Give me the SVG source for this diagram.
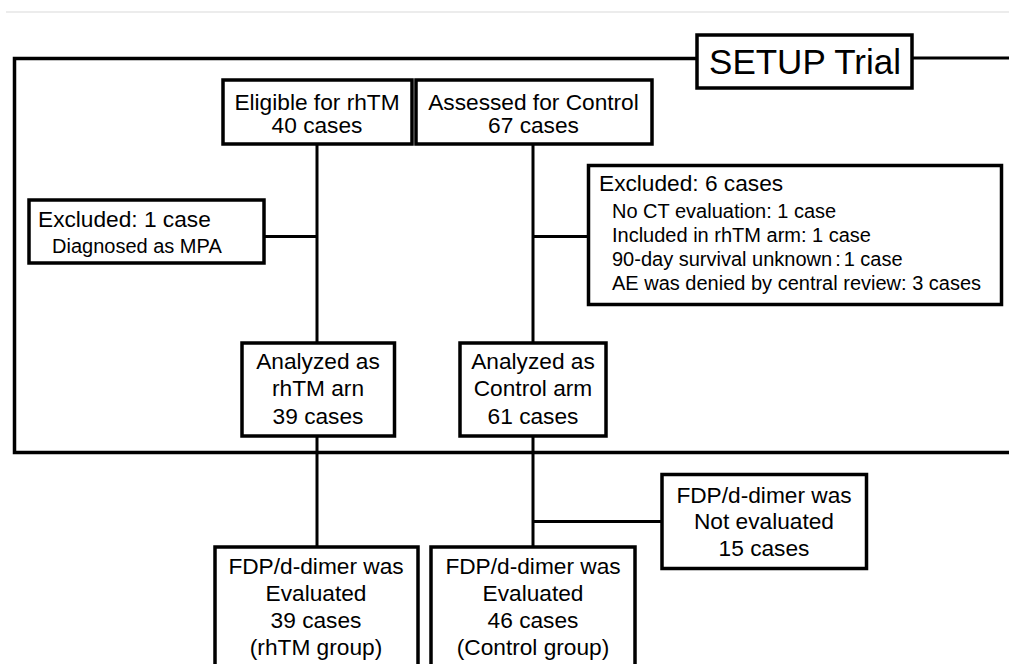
<svg xmlns="http://www.w3.org/2000/svg" width="1009" height="664" viewBox="0 0 1009 664">
<style>
.box{fill:#fff;stroke:#000;stroke-width:3.5}
.ln{stroke:#000;stroke-width:3;fill:none}
text{font-family:"Liberation Sans",Arial,sans-serif;fill:#000}
.t22{font-size:22.7px;text-anchor:middle}
.t20{font-size:22.7px}
.t17{font-size:20px}
</style>
<rect x="0" y="0" width="1009" height="664" fill="#fff"/>
<line x1="6" y1="12" x2="1009" y2="12" stroke="#e6e6e6" stroke-width="1.5"/>
<g id="connectors">
<path class="ln" d="M697,58.5 H14.5 V452.5 H1009" style="stroke-width:3.5"/>
<line class="ln" x1="912" y1="58" x2="1009" y2="58"/>
<line class="ln" x1="317" y1="144" x2="317" y2="547"/>
<line class="ln" x1="533" y1="144" x2="533" y2="547"/>
<line class="ln" x1="264" y1="236.5" x2="317" y2="236.5"/>
<line class="ln" x1="533" y1="236.5" x2="588" y2="236.5"/>
<line class="ln" x1="533" y1="521.5" x2="662" y2="521.5"/>
</g>
<g id="setup">
<rect class="box" x="697" y="35" width="215" height="53"/>
<text x="805" y="74" style="font-size:35px;text-anchor:middle">SETUP Trial</text>
</g>
<g id="eligible">
<rect class="box" x="223" y="80" width="189" height="64"/>
<text class="t22" x="317" y="109.5">Eligible for rhTM</text>
<text class="t22" x="317" y="133">40 cases</text>
</g>
<g id="assessed">
<rect class="box" x="416" y="80" width="236" height="64"/>
<text class="t22" x="533.5" y="109.5">Assessed for Control</text>
<text class="t22" x="533.5" y="133">67 cases</text>
</g>
<g id="excluded1">
<rect class="box" x="29" y="200" width="235" height="63"/>
<text class="t20" x="38" y="227">Excluded: 1 case</text>
<text class="t17" x="52" y="252.5">Diagnosed as MPA</text>
</g>
<g id="excluded6">
<rect class="box" x="588.5" y="165.5" width="413" height="139"/>
<text class="t20" x="599" y="191">Excluded: 6 cases</text>
<text class="t17" x="612" y="218">No CT evaluation: 1 case</text>
<text class="t17" x="612" y="241.5">Included in rhTM arm: 1 case</text>
<text class="t17" x="612" y="265.5">90-day survival unknown<tspan dx="3">:</tspan><tspan dx="3">1 case</tspan></text>
<text class="t17" x="612" y="290">AE was denied by central review: 3 cases</text>
</g>
<g id="analyzed-rhtm">
<rect class="box" x="242" y="343" width="152.5" height="93"/>
<text class="t22" x="318" y="369">Analyzed as</text>
<text class="t22" x="318" y="395.5">rhTM arn</text>
<text class="t22" x="318" y="423.5">39 cases</text>
</g>
<g id="analyzed-control">
<rect class="box" x="460" y="343" width="146" height="93"/>
<text class="t22" x="533" y="369">Analyzed as</text>
<text class="t22" x="533" y="395.5">Control arm</text>
<text class="t22" x="533" y="423.5">61 cases</text>
</g>
<g id="fdp-rhtm">
<rect class="box" x="215" y="547" width="203" height="130"/>
<text class="t22" x="316" y="574">FDP/d-dimer was</text>
<text class="t22" x="316" y="600.5">Evaluated</text>
<text class="t22" x="316" y="628">39 cases</text>
<text class="t22" x="316" y="655">(rhTM group)</text>
</g>
<g id="fdp-control">
<rect class="box" x="431" y="547" width="204" height="130"/>
<text class="t22" x="533" y="574">FDP/d-dimer was</text>
<text class="t22" x="533" y="600.5">Evaluated</text>
<text class="t22" x="533" y="628">46 cases</text>
<text class="t22" x="533" y="655">(Control group)</text>
</g>
<g id="fdp-not">
<rect class="box" x="662" y="474.5" width="204.5" height="94"/>
<text class="t22" x="764" y="503">FDP/d-dimer was</text>
<text class="t22" x="764" y="529">Not evaluated</text>
<text class="t22" x="764" y="556">15 cases</text>
</g>
</svg>
